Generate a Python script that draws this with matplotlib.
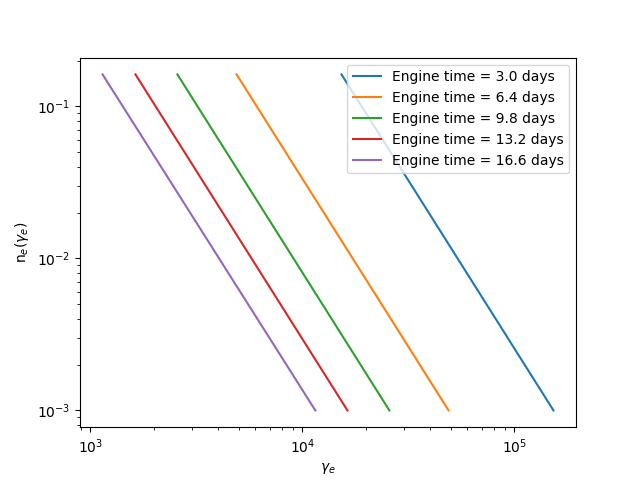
import matplotlib
matplotlib.use("Agg")
import matplotlib.pyplot as plt

engine_times = [3.0, 6.4, 9.8, 13.2, 16.6]
# endpoints (gamma_min/gamma_max, n at each end)
gamma_start = [15280, 4890, 2570, 1630, 1140]
gamma_end = [152800, 48900, 25700, 16300, 11500]
n_start = [0.1625, 0.1625, 0.1625, 0.1625, 0.1625]
n_end = [0.001, 0.001, 0.001, 0.001, 0.001]

fig, ax = plt.subplots(figsize=(6.4, 4.8), dpi=100)
for t, g0, g1, n0, n1 in zip(engine_times, gamma_start, gamma_end, n_start, n_end):
    ax.plot([g0, g1], [n0, n1], label=f"Engine time = {t} days")

ax.set_xscale("log")
ax.set_yscale("log")
ax.set_xlabel(r"$\gamma_e$")
ax.set_ylabel(r"n$_e(\gamma_e)$")
ax.legend(loc="upper right")
fig.savefig("out.png")
